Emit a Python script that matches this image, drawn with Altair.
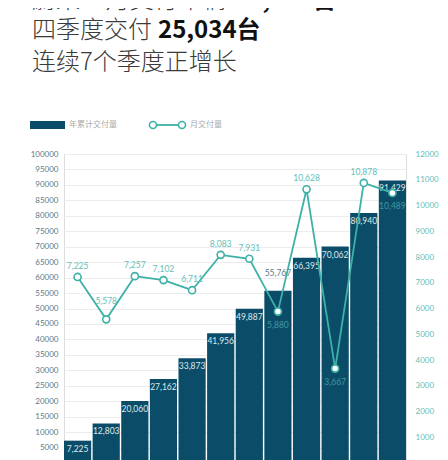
import altair as alt
import pandas as pd

months = [1, 2, 3, 4, 5, 6, 7, 8, 9, 10, 11, 12]
cumulative = [7225, 12803, 20060, 27162, 33873, 41956, 49887, 55767, 66395, 70062, 80940, 91429]
monthly = [7225, 5578, 7257, 7102, 6711, 8083, 7931, 5880, 10628, 3667, 10878, 10489]

title1_a = "蔚来12月交付车辆"
title1_b = "10,489台"
title2_a = "四季度交付"
title2_b = "25,034台"
title3 = "连续7个季度正增长"
legend_bar = "年累计交付量"
legend_line = "月交付量"

left_ticks = list(range(5000, 100001, 5000))
right_ticks = list(range(0, 12001, 1000))

BAR = "#0b4d68"
TEAL = "#3db1a7"
AXIS_L = "#5a7a8a"
AXIS_R = "#62c0b8"

df = pd.DataFrame({"month": months, "cum": cumulative, "mon": monthly})

xenc = alt.X("month:O", axis=None, scale=alt.Scale(paddingInner=0.05, paddingOuter=0))
yl = alt.Y("cum:Q", scale=alt.Scale(domain=[0, 100000]),
           axis=alt.Axis(values=left_ticks, tickCount=len(left_ticks), format="d", title=None,
                         ticks=False, domain=False, grid=True, gridColor="#ececec",
                         labelColor=AXIS_L, labelFont="Lato", labelFontSize=8, labelPadding=6,
                         labelOverlap=False))
yr = alt.Y("mon:Q", scale=alt.Scale(domain=[0, 12000]),
           axis=alt.Axis(values=right_ticks, tickCount=len(right_ticks), format="d", title=None,
                         ticks=False, domain=False, grid=False, orient="right",
                         labelColor=AXIS_R, labelFont="Lato", labelFontSize=8, labelPadding=9,
                         labelOverlap=False))

base = alt.Chart(df)
bars = base.mark_bar(color=BAR).encode(x=xenc, y=yl)
bar_text = base.transform_filter("datum.month != 8").mark_text(
    baseline="middle", dy=8, color="#dbe9ee", font="Lato", fontSize=8.5
).encode(x=xenc, y=alt.Y("cum:Q"), text=alt.Text("cum:Q", format=",d"))
bar_text8 = base.transform_filter("datum.month == 8").mark_text(
    baseline="middle", dy=-18, color=AXIS_L, font="Lato", fontSize=8.5
).encode(x=xenc, y=alt.Y("cum:Q"), text=alt.Text("cum:Q", format=",d"))
left = alt.layer(bars, bar_text, bar_text8)

line = base.mark_line(color=TEAL, strokeWidth=1.8).encode(x=xenc, y=yr)
pts = base.mark_point(filled=True, fill="white", stroke=TEAL, strokeWidth=1.6, size=50, opacity=1).encode(
    x=xenc, y=alt.Y("mon:Q"))
lt_up = base.transform_filter("indexof([2,8,10,12], datum.month) < 0").mark_text(
    baseline="middle", dy=-11, color=AXIS_R, font="Lato", fontSize=8.5
).encode(x=xenc, y=alt.Y("mon:Q"), text=alt.Text("mon:Q", format=",d"))
lt_hi = base.transform_filter("datum.month == 2").mark_text(
    baseline="middle", dy=-18, color=AXIS_R, font="Lato", fontSize=8.5
).encode(x=xenc, y=alt.Y("mon:Q"), text=alt.Text("mon:Q", format=",d"))
lt_dn = base.transform_filter("indexof([8,10,12], datum.month) >= 0").mark_text(
    baseline="middle", dy=13, color="#3f98a3", font="Lato", fontSize=8.5
).encode(x=xenc, y=alt.Y("mon:Q"), text=alt.Text("mon:Q", format=",d"))
right = alt.layer(line, pts, lt_up, lt_hi, lt_dn)

def txt(s, x, y, size, color, weight="normal", font="Noto Sans CJK SC"):
    return alt.Chart(pd.DataFrame({"t": [s]})).mark_text(
        align="left", baseline="alphabetic", fontSize=size, color=color, fontWeight=weight, font=font
    ).encode(x=alt.value(x), y=alt.value(y), text="t:N")

titles = [
    txt(title1_a, -32, -146, 24, "#3a3a3a", 300),
    txt(title1_b, 170, -146, 24, "#111111", "bold"),
    txt(title2_a, -32, -116, 24, "#3a3a3a", 300),
    txt(title2_b, 94, -116, 24, "#111111", "bold"),
    txt(title3, -32, -84, 24, "#3a3a3a", 300),
]

one = pd.DataFrame({"a": [0]})
leg_rect = alt.Chart(one).mark_rect(color=BAR).encode(
    x=alt.value(-34), x2=alt.value(1), y=alt.value(-33), y2=alt.value(-25))
leg_t1 = alt.Chart(pd.DataFrame({"t": [legend_bar]})).mark_text(
    align="left", baseline="middle", fontSize=8, color="#aaaaaa", font="Noto Sans CJK SC"
).encode(x=alt.value(5), y=alt.value(-29), text="t:N")
leg_rule = alt.Chart(one).mark_rule(color=TEAL, strokeWidth=1.8).encode(
    x=alt.value(89), x2=alt.value(118), y=alt.value(-29))
leg_p1 = alt.Chart(one).mark_point(filled=True, fill="white", stroke=TEAL, strokeWidth=1.6, size=50, opacity=1).encode(
    x=alt.value(89), y=alt.value(-29))
leg_p2 = alt.Chart(one).mark_point(filled=True, fill="white", stroke=TEAL, strokeWidth=1.6, size=50, opacity=1).encode(
    x=alt.value(118), y=alt.value(-29))
leg_t2 = alt.Chart(pd.DataFrame({"t": [legend_line]})).mark_text(
    align="left", baseline="middle", fontSize=8, color="#aaaaaa", font="Noto Sans CJK SC"
).encode(x=alt.value(126), y=alt.value(-29), text="t:N")

main = alt.layer(left, right).resolve_scale(y="independent")

chart = alt.layer(main, *titles, leg_rect, leg_t1, leg_rule, leg_p1, leg_p2, leg_t2).properties(
    width=342, height=309,
    autosize="none",
    padding={"left": 56, "top": 146, "right": 34, "bottom": 5},
).configure_view(stroke=None).configure(background="white")

chart.save("out.html", embed_options={"renderer": "svg", "actions": False})
